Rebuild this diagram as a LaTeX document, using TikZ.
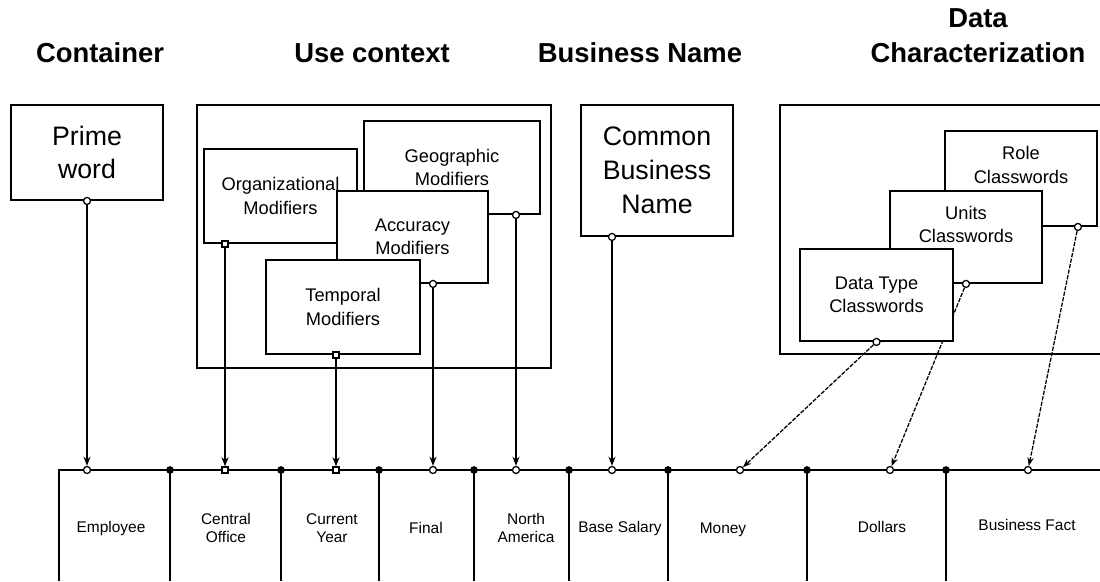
\documentclass[tikz,border=0pt]{standalone}
\usepackage{fontspec}
\setmainfont{Liberation Sans}
\usetikzlibrary{arrows.meta,positioning}

\begin{document}
\begin{tikzpicture}[
            x = 0.025cm, y = -0.025cm, % one unit = one pixel of the sketch
            box/.style = {draw, fill=white, line width=1.3pt, inner sep=0pt, align=center},
            heading/.style = {font=\bfseries\fontsize{19.5}{25}\selectfont, align=center},
            bigtext/.style = {font=\fontsize{19}{24}\selectfont},
            smalltext/.style = {font=\fontsize{13}{16.5}\selectfont, align=center},
            celltext/.style = {font=\fontsize{11}{13}\selectfont, align=center},
            ring/.style = {circle, draw, fill=white, line width=0.9pt, inner sep=0pt, minimum size=5pt},
            sqr/.style = {rectangle, draw, fill=white, line width=0.9pt, inner sep=0pt, minimum size=4.3pt},
            joint/.style = {circle, fill=black, inner sep=0pt, minimum size=5.5pt},
            link/.style = {-{Stealth[length=6.5pt,width=5pt]}, line width=1.1pt},
            dlink/.style = {-{Stealth[length=6pt,width=4.5pt]}, line width=0.9pt, dash pattern=on 3pt off 1pt}
        ]
\useasboundingbox (0,0) rectangle (1100,581);

% headings
\node[heading] (hCont) at (100,53) {Container};
\node[heading] (hUse) at (372,53) {Use context};
\node[heading] (hBus) at (640,53) {Business Name};
\node[heading] (hData) at (978,36) {Data\\Characterization};

% the strip of words at the bottom
\draw[line width=1.3pt] (59,581) -- (59,470) -- (1100,470);
\foreach \dx in {170,281,379,474,569,668,807,946}
    \draw[line width=1.3pt] (\dx,470) -- (\dx,581) node[joint, pos=0] {};

\node[ring] (mkEmp) at (87,470) {};
\node[sqr] (mkOff) at (225,470) {};
\node[sqr] (mkYear) at (336,470) {};
\node[ring] (mkFin) at (433,470) {};
\node[ring] (mkAm) at (516,470) {};
\node[ring] (mkSal) at (612,470) {};
\node[ring] (mkMon) at (740,470) {};
\node[ring] (mkDol) at (890,470) {};
\node[ring] (mkFact) at (1028,470) {};

\node[celltext] (cEmp) at (111,528) {Employee};
\node[celltext] (cOff) at (226,528) {Central\\Office};
\node[celltext] (cYear) at (332,528) {Current\\Year};
\node[celltext] (cFin) at (426,528) {Final};
\node[celltext] (cAm) at (526,528) {North\\America};
\node[celltext] (cSal) at (620,528) {Base Salary};
\node[celltext] (cMon) at (723,530) {Money};
\node[celltext] (cDol) at (882,527) {Dollars};
\node[celltext] (cFact) at (1027,525) {Business Fact};

% container
\node[box, bigtext, minimum width=3.8cm, minimum height=2.375cm] (prime) at (87,152.5) {Prime\\word};
\node[ring] (sPrime) at (mkEmp |- prime.south) {};
\draw[link] (sPrime) -- (mkEmp);

% use context
\node[box, minimum width=8.85cm, minimum height=6.575cm] (useBox) at (374,236.5) {};
\node[box, smalltext, minimum width=4.4cm, minimum height=2.325cm] (geo) at (452,167.5) {Geographic\\Modifiers};
\node[box, smalltext, minimum width=3.825cm, minimum height=2.35cm] (org) at (280.5,196) {Organizational\\Modifiers};
\node[box, smalltext, minimum width=3.775cm, minimum height=2.3cm] (acc) at (412.5,237) {Accuracy\\Modifiers};
\node[box, smalltext, minimum width=3.85cm, minimum height=2.35cm] (temp) at (343,307) {Temporal\\Modifiers};

\node[sqr] (sOrg) at (mkOff |- org.south) {};
\node[ring] (sGeo) at (mkAm |- geo.south) {};
\node[ring] (sAcc) at (mkFin |- acc.south) {};
\node[sqr] (sTemp) at (mkYear |- temp.south) {};
\foreach \from/\to in {sOrg/mkOff, sGeo/mkAm, sAcc/mkFin, sTemp/mkYear}
    \draw[link] (\from) -- (\to);

% business name
\node[box, bigtext, minimum width=3.8cm, minimum height=3.275cm] (common) at (657,170.5) {Common\\Business\\Name};
\node[ring] (sCommon) at (mkSal |- common.south) {};
\draw[link] (sCommon) -- (mkSal);

% data characterization
\draw[line width=1.3pt] (1100,105) -- (780,105) -- (780,354) -- (1100,354);
\node[box, minimum width=3.8cm, minimum height=2.375cm] (role) at (1021,178.5) {};
\node[smalltext] (roleText) at ([yshift=0.34cm]role.center) {Role\\Classwords};
\node[box, minimum width=3.8cm, minimum height=2.3cm] (units) at (966,237) {};
\node[smalltext] (unitsText) at ([yshift=0.32cm]units.center) {Units\\Classwords};
\node[ring] (sRole) at ([xshift=-0.5cm]role.south east) {};
\node[ring] (sUnits) at (units.south) {};
\draw[dlink] (sRole) -- (mkFact);
\draw[dlink] (sUnits) -- (mkDol);
\node[box, smalltext, minimum width=3.825cm, minimum height=2.3cm] (dtype) at (876.5,295) {Data Type\\Classwords};
\node[ring] (sType) at (dtype.south) {};
\draw[dlink] (sType) -- (mkMon);

\end{tikzpicture}
\end{document}
